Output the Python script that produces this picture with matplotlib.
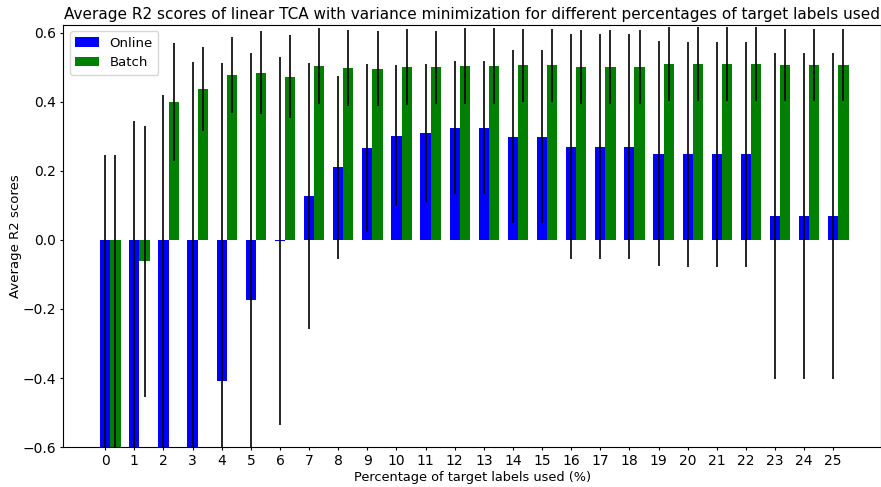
import numpy as np
import matplotlib
matplotlib.use("Agg")
import matplotlib.pyplot as plt

# Percentage of target labels used
percentages = list(range(26))

# Online TCA: mean R2 and standard deviation per percentage
online_mean = [-1.00, -1.00, -1.00, -1.00, -0.409, -0.174, -0.003, 0.127, 0.210,
               0.267, 0.302, 0.310, 0.325, 0.325, 0.299, 0.299, 0.270, 0.270,
               0.270, 0.250, 0.248, 0.248, 0.248, 0.070, 0.070, 0.070]
online_std = [1.245, 1.345, 1.420, 1.516, 0.922, 0.714, 0.533, 0.386, 0.266,
              0.243, 0.205, 0.200, 0.193, 0.193, 0.251, 0.251, 0.326, 0.326,
              0.326, 0.326, 0.326, 0.326, 0.326, 0.472, 0.472, 0.472]

# Batch TCA: mean R2 and standard deviation per percentage
batch_mean = [-0.80, -0.062, 0.400, 0.438, 0.478, 0.484, 0.473, 0.503, 0.497,
              0.496, 0.501, 0.500, 0.504, 0.504, 0.506, 0.506, 0.501, 0.501,
              0.501, 0.510, 0.510, 0.510, 0.510, 0.507, 0.507, 0.507]
batch_std = [1.045, 0.393, 0.170, 0.122, 0.110, 0.120, 0.120, 0.110, 0.110,
             0.109, 0.109, 0.105, 0.109, 0.109, 0.106, 0.106, 0.106, 0.106,
             0.106, 0.107, 0.107, 0.107, 0.107, 0.104, 0.104, 0.104]


def plot():
    width = 0.35
    x = np.arange(len(percentages))

    fig = plt.figure(figsize=(8.81, 4.87), dpi=100)
    ax = fig.add_axes([0.072, 0.082, 0.928, 0.867])

    ax.bar(x, online_mean, width, yerr=online_std, color='blue', ecolor='black',
           error_kw={'elinewidth': 1.2}, label='Online')
    ax.bar(x + width, batch_mean, width, yerr=batch_std, color='green', ecolor='black',
           error_kw={'elinewidth': 1.2}, label='Batch')

    ax.set_xticks(x)
    ax.set_xticklabels([str(p) for p in percentages])
    ax.set_xlim(-1.435, 26.64)
    ax.set_ylim(-0.6, 0.623)
    ax.set_yticks([-0.6, -0.4, -0.2, 0.0, 0.2, 0.4, 0.6])

    ax.set_xlabel('Percentage of target labels used (%)', fontsize=9.3, labelpad=2)
    ax.set_ylabel('Average R2 scores', fontsize=9.5, labelpad=0.5)
    ax.set_title('Average R2 scores of linear TCA with variance minimization '
                 'for different percentages of target labels used', fontsize=11, pad=4)
    ax.tick_params(labelsize=10, length=2.5, pad=2.5)
    ax.legend(loc='upper left', fontsize=9.5, handlelength=1.8)

    fig.savefig('out.png', dpi=100)


if __name__ == '__main__':
    plot()
